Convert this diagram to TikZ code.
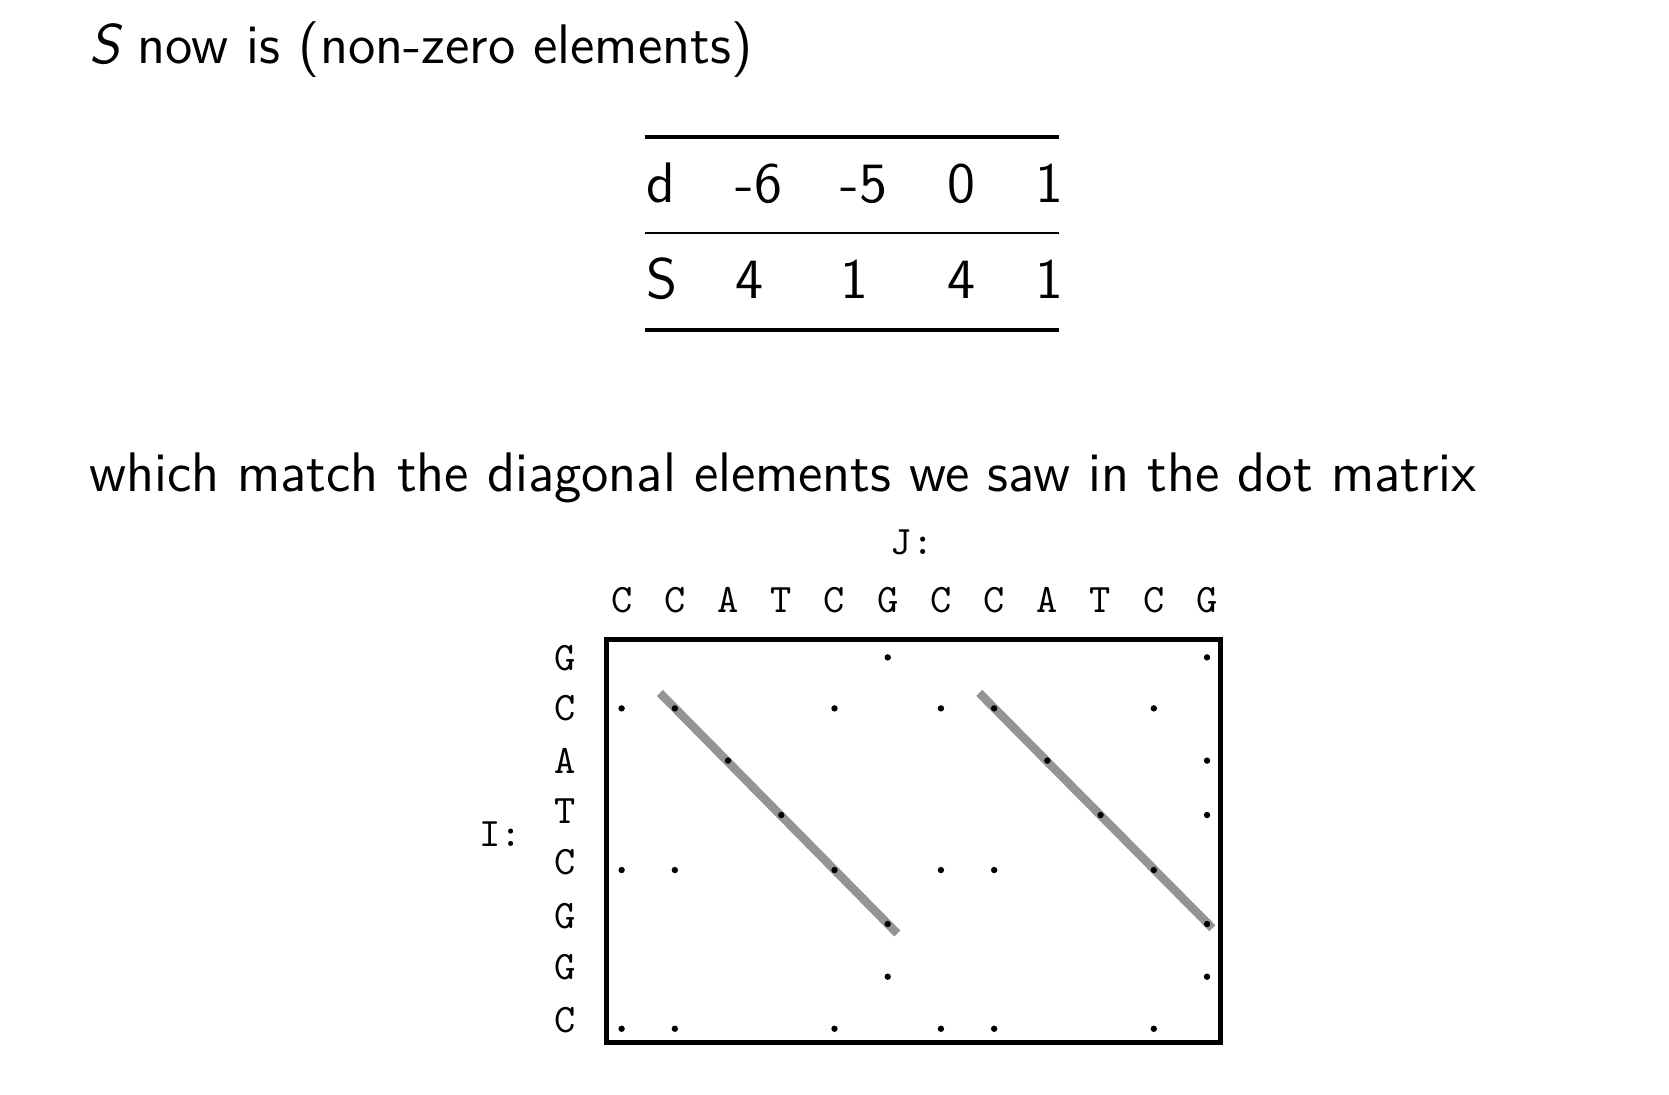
\documentclass[tikz,border=0pt]{standalone}
\usepackage{tikz}
\usetikzlibrary{positioning}

\begin{document}
\begin{tikzpicture}[x=0.25pt,y=-0.25pt,
    slide/.style={
        font=\sffamily\fontsize{13.1}{16}\selectfont,
        inner sep=0pt,
        anchor=base west
    },
    cell/.style={
        font=\sffamily\fontsize{13.4}{16}\selectfont,
        inner sep=0pt,
        anchor=base west
    },
    seq/.style={
        font=\ttfamily\fontsize{9.5}{11}\selectfont,
        inner sep=0pt
    },
    hit/.style={
        black
    },
    band/.style={
        black!42,
        line width=2pt
    }
]
\path[use as bounding box] (0,0) rectangle (1568,1028);

\node[slide] (title) at (83,60) {{\itshape S} now is (non-zero elements)};

\draw[line width=0.95pt] (606,128.4) -- (995,128.4);
\draw[line width=0.5pt] (606,219) -- (995,219);
\draw[line width=0.95pt] (606,310) -- (995,310);

\foreach \n/\x/\d/\s in {0/607/d/S,1/690.5/-6/4,2/789/-5/1,3/889.5/0/4,4/972/1/1}{
    \node[cell] (d\n) at (\x,190.5) {\d};
    \node[cell] (s\n) at (\x,280.5) {\s};
}

\node[slide] (remark) at (83,462) {which match the diagonal elements we saw in the dot matrix};

\node[seq] (jlab) at (857,510) {J:};
\node[seq] (ilab) at (470,783.4) {I:};

\foreach \c/\t in {1/C,2/C,3/A,4/T,5/C,6/G,7/C,8/C,9/A,10/T,11/C,12/G}{
    \node[seq] (j\c) at ({584+50*(\c-1)},563.7) {\t};
}

\foreach \r/\y/\t in {1/618.5/G,2/665.5/C,3/714.6/A,4/761.8/T,5/809.5/C,6/861/G,7/908.2/G,8/958.3/C}{
    \node[seq] (i\r) at (530.5,\y) {\t};
}

\draw[line width=1.15pt] (569.5,600.4) rectangle (1147,979.4);

\draw[band] (620,651) -- (843,877);
\draw[band] (920,651) -- (1139,872);

\foreach \y/\cols in {617.6/{6,12},665.5/{1,2,5,7,8,11},714.6/{3,9,12},765.7/{4,10,12},
    817.4/{1,2,5,7,8,11},868.1/{6,12},917.6/{6,12},966.5/{1,2,5,7,8,11}}{
    \foreach \c in \cols{
        \fill[hit] ({584+50*(\c-1)},\y) circle (0.75pt);
    }
}
\end{tikzpicture}
\end{document}
